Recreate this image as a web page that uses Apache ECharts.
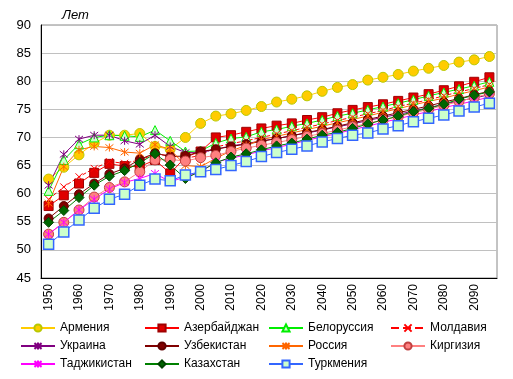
<!DOCTYPE html>
<html><head><meta charset="utf-8">
<script src="https://cdn.jsdelivr.net/npm/echarts@6/dist/echarts.min.js"></script>
<style>html,body{margin:0;padding:0;background:#fff}#c{width:513px;height:379px}</style>
</head><body><div id="c"></div>
<script>
var years = [];
for (var y = 1950; y <= 2095; y += 5) years.push(String(y));
var seriesNames = ['Армения','Азербайджан','Белоруссия','Молдавия','Украина','Узбекистан','Россия','Киргизия','Таджикистан','Казахстан','Туркмения'];
var armenia     = [62.6,64.7,66.9,69.0,70.4,70.4,70.7,68.4,67.9,70.0,72.5,73.8,74.2,74.8,75.5,76.3,76.8,77.4,78.2,78.9,79.4,80.2,80.7,81.2,81.8,82.3,82.8,83.4,83.8,84.4];
var azerbaijan  = [57.8,59.7,61.8,63.7,65.3,64.9,64.8,66.0,63.6,66.5,67.5,70.0,70.4,71.0,71.6,72.1,72.5,73.1,73.6,74.3,74.9,75.4,75.9,76.5,77.1,77.7,78.4,79.1,79.9,80.7];
var belorussia  = [60.5,66.0,68.8,70.0,70.4,70.3,70.1,71.3,69.4,67.5,67.6,69.0,69.8,70.1,71.0,71.4,72.0,72.5,73.1,73.8,74.3,74.9,75.5,76.1,76.7,77.4,78.0,78.6,79.2,79.9];
var moldavia    = [59.0,61.2,63.0,64.5,65.7,65.4,66.0,67.0,66.8,66.3,66.8,68.3,68.9,69.4,70.0,70.6,71.2,71.8,72.4,73.0,73.6,74.2,74.8,75.5,76.1,76.7,77.4,78.1,78.7,79.4];
var ukraine     = [61.5,67.0,69.7,70.4,70.4,69.4,68.8,70.4,68.4,67.3,67.3,67.9,68.5,68.9,69.4,69.8,70.3,70.8,71.3,71.9,72.4,73.0,73.6,74.1,74.7,75.3,75.9,76.5,77.0,77.6];
var uzbekistan  = [55.6,57.8,59.9,61.8,63.5,64.5,66.1,67.2,66.6,66.7,67.5,67.9,68.4,68.8,69.3,69.8,70.3,70.9,71.4,72.0,72.6,73.2,73.8,74.4,75.0,75.6,76.3,76.9,77.6,78.2];
var russia      = [58.3,64.8,67.8,68.4,68.2,67.4,67.2,68.7,67.9,65.0,64.8,66.3,67.6,68.6,69.6,70.2,70.8,71.4,72.0,72.6,73.2,73.8,74.5,75.1,75.8,76.4,77.0,77.7,78.3,79.0];
var kirgizia    = [52.8,54.9,57.1,59.4,61.1,62.1,63.9,66.0,66.1,65.8,66.4,66.8,67.5,68.1,68.6,69.1,69.6,70.2,70.7,71.3,71.9,72.5,73.1,73.7,74.4,75.0,75.7,76.4,77.1,77.8];
var tajikistan  = [52.8,54.9,57.1,59.0,60.8,62.0,62.7,63.6,62.1,63.0,63.9,65.6,66.3,66.9,67.6,68.2,68.8,69.5,70.1,70.7,71.4,72.0,72.7,73.3,74.0,74.6,75.3,75.9,76.5,77.2];
var kazakhstan  = [54.9,57.0,59.3,61.5,63.1,64.1,65.5,67.1,65.1,62.7,64.0,65.5,66.5,67.1,67.8,68.5,69.0,69.7,70.4,70.9,71.6,72.4,73.1,73.8,74.6,75.2,75.9,76.8,77.5,78.1];
var turkmenia   = [51.0,53.2,55.3,57.4,59.0,59.9,61.5,62.6,62.3,63.3,63.9,64.3,65.0,65.7,66.6,67.3,67.9,68.5,69.2,69.8,70.4,70.8,71.5,72.1,72.8,73.4,74.0,74.7,75.4,76.1];
var yTicks = {min:45, max:90, interval:5};

var allData = [armenia,azerbaijan,belorussia,moldavia,ukraine,uzbekistan,russia,kirgizia,tajikistan,kazakhstan,turkmenia];
var STAR = 'path://M0,-10L0,10M-8,-8L8,8M-8,8L8,-8';
var XMARK = 'path://M-8,-8L8,8M-8,8L8,-8';
var styles = [
  {line:'#FFCC00', sym:'circle', size:10, fill:'#FFCC00', border:'#B8C800', bw:1},
  {line:'#FF0000', sym:'rect', size:9, fill:'#E00000', border:'#A00000', bw:1},
  {line:'#00EE00', sym:'triangle', size:9, fill:'#CCFFCC', border:'#00EE00', bw:1},
  {line:'#FF0000', sym:XMARK, size:7, fill:'#FF0000', border:'#FF0000', bw:1, dash:'dashed'},
  {line:'#800080', sym:STAR, size:8, fill:'#800080', border:'#800080', bw:1},
  {line:'#800000', sym:'circle', size:9, fill:'#800000', border:'#600000', bw:1},
  {line:'#FF6600', sym:STAR, size:8, fill:'#FF6600', border:'#FF6600', bw:1},
  {line:'#FF8080', sym:'circle', size:10, fill:'#FF8080', border:'#C04040', bw:1},
  {line:'#FF00FF', sym:STAR, size:8, fill:'#FF00FF', border:'#FF00FF', bw:1},
  {line:'#008000', sym:'diamond', size:10, fill:'#006600', border:'#004400', bw:1},
  {line:'#3366FF', sym:'rect', size:10, fill:'#CCFFCC', border:'#3366FF', bw:1.5}
];
var series = seriesNames.map(function(n,i){
  var s = styles[i];
  return {
    name:n, type:'line', data:allData[i], symbol:s.sym, symbolSize:s.size,
    showAllSymbol:true,
    lineStyle:{color:s.line, width:1, type:s.dash||'solid'},
    itemStyle:{color:s.fill, borderColor:s.border, borderWidth:s.bw},
    emphasis:{disabled:true}, animation:false
  };
});
var legendCols = [
  {left:20,  names:['Армения','Украина','Таджикистан']},
  {left:144, names:['Азербайджан','Узбекистан','Казахстан']},
  {left:268, names:['Белоруссия','Россия','Туркмения']},
  {left:390, names:['Молдавия','Киргизия']}
];
var legends = legendCols.map(function(c){
  return {orient:'vertical', left:c.left, top:321, padding:0, itemWidth:34, itemHeight:9, itemGap:4,
    textStyle:{fontSize:12, lineHeight:14, color:'#000', fontFamily:'Liberation Sans, Arial, sans-serif'},
    data:c.names};
});
var chart = echarts.init(document.getElementById('c'), null, {renderer:'canvas'});
chart.setOption({
  animation:false,
  textStyle:{fontFamily:'Liberation Sans, Arial, sans-serif'},
  grid:{left:41, right:16, top:25, bottom:101, show:true, borderColor:'#888', borderWidth:1},
  graphic:[{type:'text', left:62, top:9, style:{text:'Лет', font:'italic 13px "Liberation Sans", Arial', fill:'#000'}}],
  xAxis:{type:'category', data:years, boundaryGap:true,
    axisLine:{lineStyle:{color:'#000', width:1}}, axisTick:{show:false},
    axisLabel:{interval:1, rotate:90, fontSize:12, color:'#000', margin:6}},
  yAxis:{type:'value', min:yTicks.min, max:yTicks.max, interval:yTicks.interval,
    axisLine:{show:true, lineStyle:{color:'#000', width:1}}, axisTick:{show:false},
    axisLabel:{fontSize:13, color:'#000', margin:10},
    splitLine:{lineStyle:{color:'#C0C0C0', width:1}}},
  legend:legends,
  series:series
});
</script></body></html>
